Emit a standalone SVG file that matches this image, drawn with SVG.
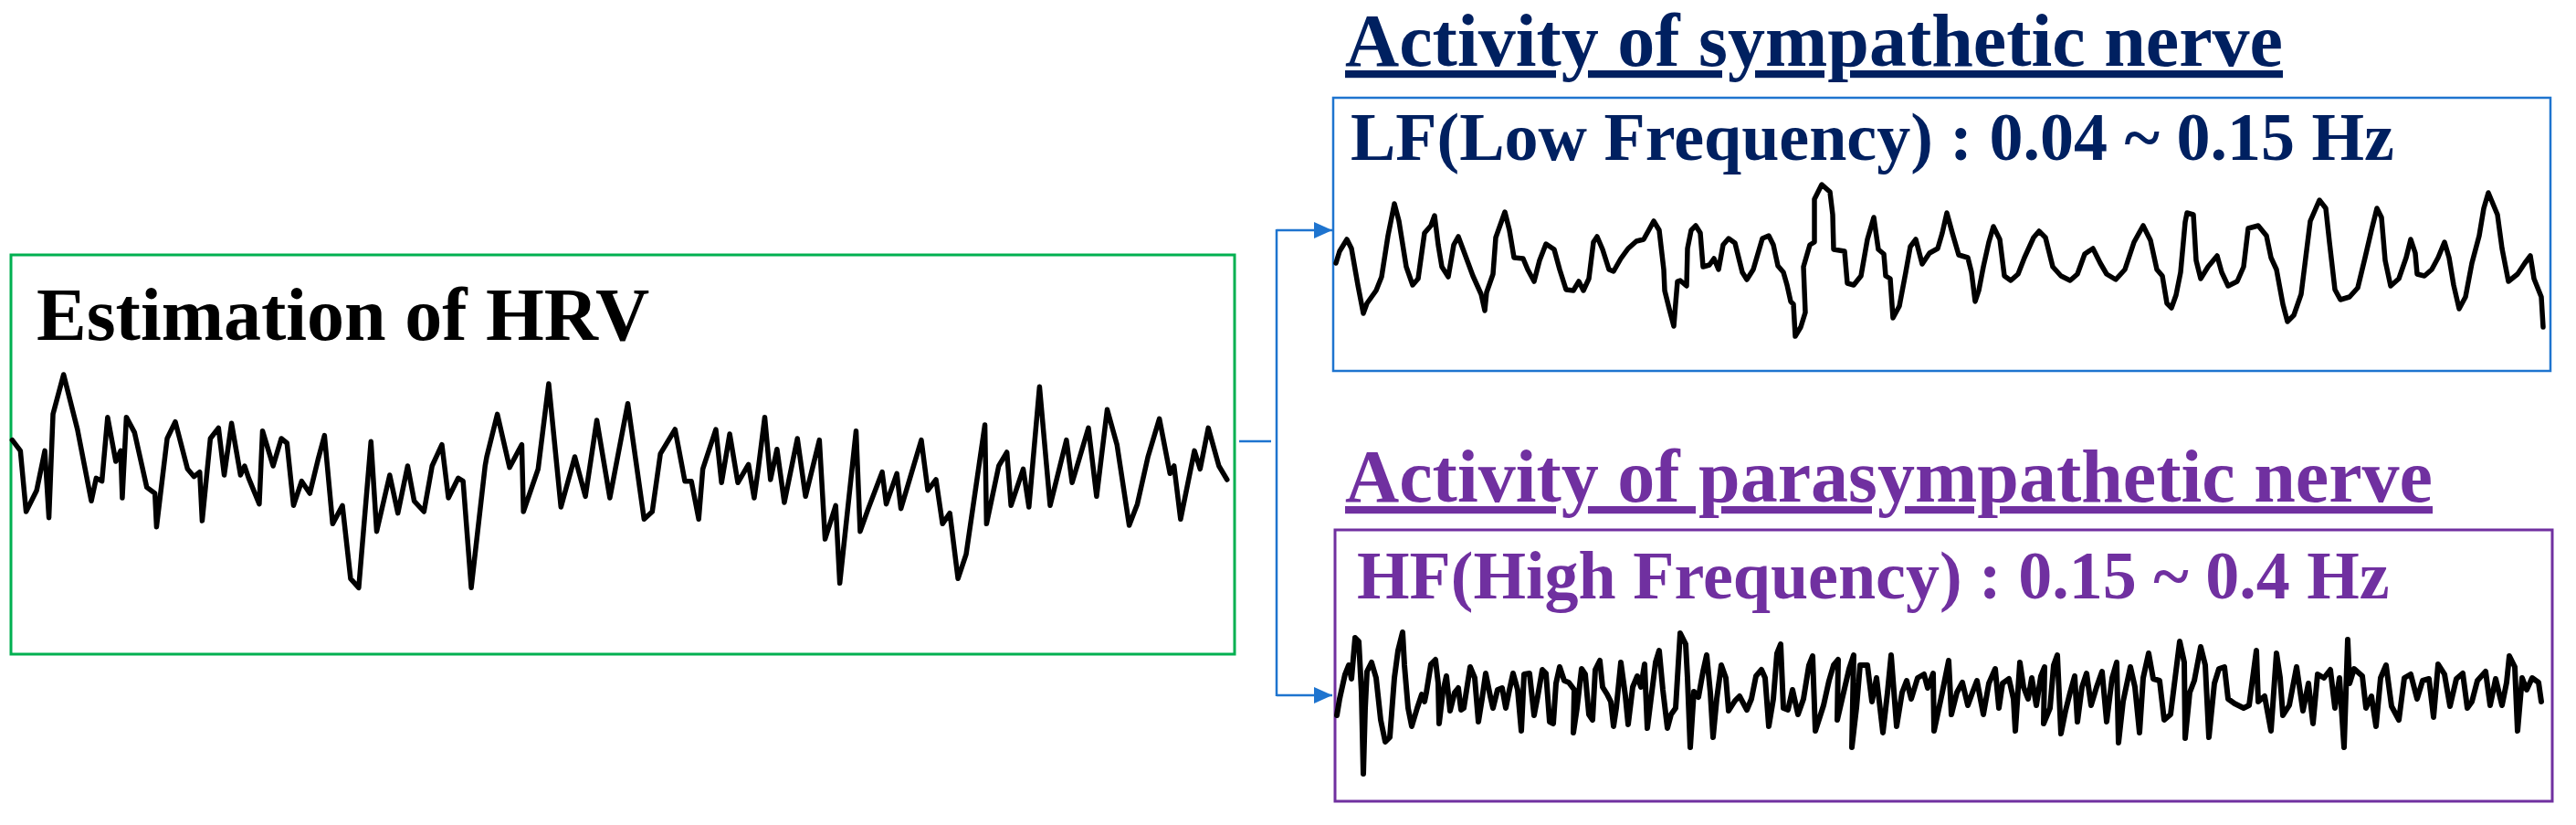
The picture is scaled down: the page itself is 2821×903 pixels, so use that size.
<svg xmlns="http://www.w3.org/2000/svg" width="2821" height="903" viewBox="0 0 2821 903">
<style>
  .bg{fill:#ffffff}
  .t{font-family:"Liberation Serif","Times New Roman",serif;font-weight:bold}
  .wave{fill:none;stroke:#000;stroke-linejoin:round;stroke-linecap:round}
  .conn{fill:none;stroke:#1E74CF;stroke-width:2.5}
</style>
<defs>
  <marker id="arr" markerUnits="userSpaceOnUse" markerWidth="20" markerHeight="18" refX="20" refY="9" orient="auto">
    <path d="M0,0 L20,9 L0,18 z" fill="#1E74CF"/>
  </marker>
</defs>
<rect class="bg" x="0" y="0" width="2821" height="903"/>

<g id="hrv-node">
  <rect x="12" y="279" width="1340" height="437" fill="none" stroke="#00B050" stroke-width="3"/>
  <text class="t" x="40" y="372" font-size="82" fill="#000">Estimation of HRV</text>
  <polyline class="wave" vector-effect="non-scaling-stroke" stroke-width="5.5" transform="translate(0,260) scale(0.892857,0.333333)" points="15,665 25,700 32,900 45,830 55,700 60,920 65,580 78,450 95,630 112,865 118,790 125,800 132,590 142,735 148,700 150,855 155,590 165,640 180,820 190,840 192,950 205,660 215,605 230,760 238,785 245,770 248,930 258,660 268,625 275,780 284,610 295,780 300,750 305,790 318,875 322,635 335,750 345,660 352,675 360,880 370,800 380,840 390,730 398,650 408,940 420,880 430,1120 440,1150 455,670 462,965 478,780 488,905 500,750 508,865 520,900 530,750 542,680 550,855 562,790 568,800 578,1150 595,750 597,720 610,580 625,755 640,680 642,900 660,760 673,480 688,885 705,720 718,850 732,600 748,855 770,545 790,925 800,900 810,710 828,630 840,800 848,800 857,925 862,760 878,630 885,805 895,645 905,805 918,745 925,855 930,760 938,590 945,795 953,695 962,870 978,660 988,850 1005,665 1012,990 1025,880 1030,1135 1050,635 1055,965 1065,890 1082,770 1087,875 1100,775 1105,890 1130,665 1138,830 1148,795 1156,940 1165,905 1175,1120 1185,1040 1208,615 1210,940 1225,750 1235,705 1240,880 1255,760 1262,885 1275,490 1288,880 1308,665 1315,805 1335,625 1345,850 1358,565 1370,680 1385,945 1395,875 1408,720 1422,595 1435,775 1440,750 1448,925 1465,700 1472,760 1482,625 1495,750 1505,795"/>
</g>

<g id="lf-node">
  <text class="t" x="1473" y="72" font-size="82" fill="#002060" text-decoration="underline">Activity of sympathetic nerve</text>
  <rect x="1460" y="107" width="1333" height="299" fill="none" stroke="#1E74CF" stroke-width="2.5"/>
  <text class="t" x="1479" y="175" font-size="74" fill="#002060">LF(Low Frequency) : 0.04 ~ 0.15 Hz</text>
  <polyline class="wave" stroke-width="5.5" points="1463,288 1467,275 1475,262 1480,272 1487,312 1493,343 1497,332 1507,318 1513,303 1520,258 1527,223 1532,242 1540,292 1547,312 1553,305 1560,255 1567,247 1571,236 1575,268 1579,292 1586,303 1592,268 1597,259 1603,275 1613,302 1622,322 1626,340 1628,320 1635,300 1638,260 1648,232 1653,252 1658,282 1668,283 1673,295 1680,308 1686,285 1693,267 1702,273 1708,295 1715,317 1723,318 1729,308 1734,318 1740,305 1745,265 1749,259 1755,273 1762,295 1767,297 1775,283 1783,272 1792,264 1800,262 1805,253 1811,242 1817,252 1822,295 1823,318 1828,338 1833,357 1835,332 1837,308 1840,307 1847,313 1848,272 1852,252 1857,247 1862,255 1865,292 1872,290 1877,283 1882,295 1887,268 1893,261 1900,266 1908,298 1913,306 1920,295 1930,261 1937,258 1942,268 1947,291 1953,298 1957,312 1961,330 1964,333 1966,368 1972,358 1977,342 1975,292 1982,268 1987,265 1987,218 1995,202 2004,210 2007,235 2008,273 2020,275 2023,310 2030,312 2038,302 2045,262 2052,238 2057,273 2063,278 2065,302 2070,305 2073,348 2080,335 2087,298 2092,270 2098,262 2105,289 2113,277 2122,272 2127,255 2132,233 2138,255 2145,279 2155,282 2159,298 2163,330 2167,318 2172,292 2178,265 2183,248 2190,262 2195,302 2202,307 2210,300 2217,282 2227,260 2233,253 2240,260 2248,292 2257,302 2267,307 2275,300 2283,278 2292,272 2300,288 2307,300 2317,306 2327,295 2337,265 2347,247 2355,263 2362,295 2368,302 2373,332 2378,337 2383,323 2388,298 2393,243 2395,233 2402,235 2405,285 2410,305 2418,292 2428,280 2433,298 2440,313 2450,308 2457,292 2462,250 2473,247 2482,258 2487,282 2493,295 2500,333 2505,352 2512,345 2520,322 2525,282 2530,242 2540,219 2547,228 2551,265 2557,317 2563,328 2573,325 2582,315 2590,282 2597,252 2603,228 2608,238 2612,285 2618,313 2627,305 2635,282 2640,262 2645,277 2647,300 2655,302 2663,295 2670,282 2677,265 2682,282 2687,312 2693,338 2700,325 2707,288 2715,258 2720,228 2725,211 2735,235 2740,272 2747,308 2757,300 2765,288 2771,280 2775,305 2783,325 2785,358"/>
</g>

<g id="hf-node">
  <text class="t" x="1473" y="549" font-size="82" fill="#7030A0" text-decoration="underline">Activity of parasympathetic nerve</text>
  <rect x="1462" y="580" width="1333" height="297" fill="none" stroke="#7030A0" stroke-width="3"/>
  <text class="t" x="1486" y="655" font-size="74" fill="#7030A0">HF(High Frequency) : 0.15 ~ 0.4 Hz</text>
  <polyline class="wave" stroke-width="6" points="1464,783 1467,765 1473,738 1477,728 1480,743 1484,698 1488,702 1491,758 1493,847 1495,775 1497,735 1502,725 1507,742 1512,788 1517,812 1522,807 1527,742 1531,712 1536,692 1538,728 1542,775 1546,795 1552,775 1557,760 1560,768 1562,758 1567,727 1572,722 1575,748 1576,792 1580,758 1584,740 1588,778 1593,758 1597,753 1600,777 1603,775 1610,730 1615,742 1619,790 1623,765 1627,737 1632,762 1635,775 1640,755 1645,753 1649,775 1653,755 1657,737 1662,755 1666,800 1669,738 1675,737 1680,783 1684,762 1689,733 1693,737 1697,790 1701,792 1704,748 1708,730 1713,745 1718,747 1724,755 1723,802 1727,775 1732,732 1736,738 1740,782 1744,788 1747,733 1752,723 1755,752 1760,760 1764,768 1767,795 1770,775 1775,725 1780,762 1783,793 1788,752 1793,740 1797,752 1801,727 1804,797 1808,765 1813,725 1817,712 1821,755 1826,797 1830,782 1835,775 1837,742 1840,693 1846,705 1848,742 1851,818 1855,757 1860,763 1865,735 1869,717 1873,758 1876,807 1880,765 1885,728 1890,742 1893,778 1900,767 1905,762 1913,777 1918,765 1923,740 1929,733 1933,742 1937,795 1942,765 1946,715 1950,705 1953,775 1958,777 1963,755 1969,782 1975,765 1981,728 1985,718 1988,800 1997,772 2003,745 2008,728 2013,722 2012,788 2018,762 2025,732 2030,717 2028,818 2033,775 2037,728 2045,728 2050,768 2055,742 2062,802 2067,758 2071,717 2077,795 2083,758 2088,745 2093,765 2100,742 2107,738 2111,753 2117,737 2118,800 2127,758 2134,723 2137,782 2143,758 2149,747 2155,772 2160,758 2165,745 2172,782 2178,748 2185,732 2189,775 2193,748 2200,743 2205,765 2207,800 2212,725 2216,752 2221,765 2225,742 2230,772 2235,740 2239,730 2238,792 2245,775 2249,728 2253,717 2257,803 2262,778 2267,758 2272,740 2275,790 2280,752 2285,737 2290,772 2296,752 2302,735 2307,790 2313,742 2318,725 2320,813 2325,768 2333,730 2338,752 2343,802 2347,742 2353,715 2358,743 2365,745 2370,788 2377,782 2382,742 2387,702 2392,725 2393,808 2398,758 2403,745 2410,708 2415,728 2419,807 2425,748 2430,732 2436,730 2440,765 2447,770 2457,775 2463,772 2471,712 2473,768 2480,762 2487,800 2493,715 2497,742 2500,783 2507,772 2515,730 2522,778 2528,748 2533,792 2538,738 2545,742 2552,733 2557,775 2562,742 2567,818 2571,700 2573,748 2578,732 2587,740 2591,775 2597,762 2602,795 2607,742 2613,728 2619,773 2627,788 2633,742 2640,738 2647,765 2653,745 2660,743 2665,785 2670,727 2677,738 2683,773 2690,743 2697,737 2702,775 2707,768 2713,745 2722,735 2727,772 2733,743 2740,772 2745,747 2748,718 2754,730 2757,800 2762,742 2767,755 2773,742 2780,747 2783,768"/>
</g>

<g id="connectors">
  <line class="conn" x1="1357" y1="483" x2="1392" y2="483"/>
  <line class="conn" x1="1398" y1="483" x2="1398" y2="251"/>
  <line class="conn" x1="1398" y1="483" x2="1398" y2="762"/>
  <path class="conn" d="M1398,252 H1459" marker-end="url(#arr)"/>
  <path class="conn" d="M1398,761 H1459" marker-end="url(#arr)"/>
</g>
</svg>
